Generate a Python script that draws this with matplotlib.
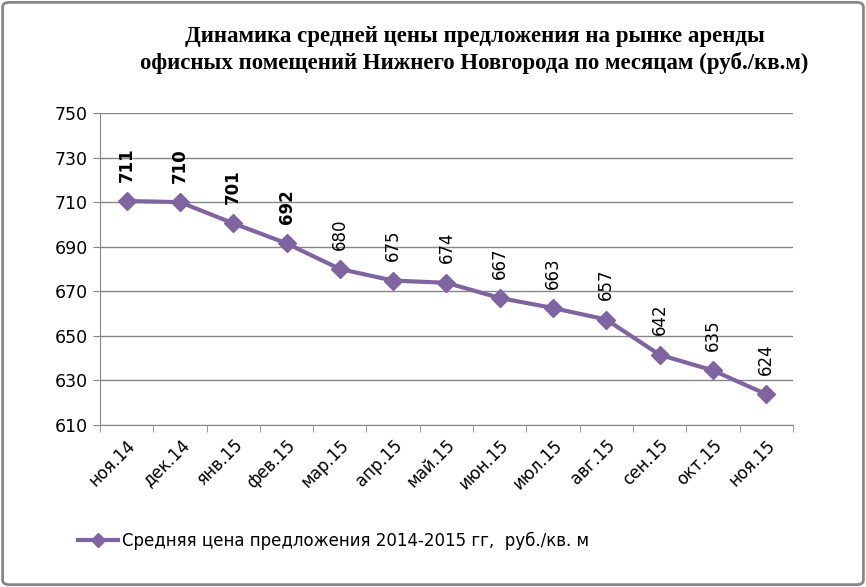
import matplotlib.pyplot as plt
from matplotlib.patches import FancyBboxPatch

months = ['ноя.14', 'дек.14', 'янв.15', 'фев.15', 'мар.15', 'апр.15', 'май.15',
          'июн.15', 'июл.15', 'авг.15', 'сен.15', 'окт.15', 'ноя.15']
prices = [711, 710, 701, 692, 680, 675, 674, 667, 663, 657, 642, 635, 624]
points = [710.5, 710, 700.5, 691.5, 680, 674.8, 673.8, 667, 662.5, 657.3, 641.5, 634.5, 623.8]

plt.rcParams['font.family'] = ['DejaVu Sans']
color = '#8064A2'
grey = '#868686'

fig = plt.figure(figsize=(8.66, 5.87), dpi=100)
ax = fig.add_axes([0.1155, 0.276, 0.80, 0.5315])

x = list(range(len(months)))
ax.plot(x, points, color=color, lw=3, marker='D', markersize=9.5,
        label='Средняя цена предложения 2014-2015 гг,  руб./кв. м')

# first four labels are bold in the original
for i, (xi, yi, v) in enumerate(zip(x, points, prices)):
    ax.annotate(str(v), (xi, yi), xytext=(0, 14), textcoords='offset points',
                rotation=90, ha='center', va='bottom', fontsize=12,
                fontweight='bold' if i < 4 else 'normal')

ax.set_xlim(-0.5, len(months) - 0.5)
ax.set_ylim(610, 750)
ax.set_yticks(range(610, 751, 20))
ax.set_xticks(x)
ax.set_xticklabels(months, rotation=45, ha='right', rotation_mode='anchor', fontsize=12)
ax.set_xticks([i - 0.5 for i in range(len(months) + 1)], minor=True)
ax.tick_params(axis='x', which='major', length=0, pad=8)
ax.tick_params(axis='x', which='minor', length=5, color=grey, direction='out')
ax.tick_params(axis='y', length=5, color=grey, labelsize=12.5, pad=4)
ax.grid(axis='y', color=grey, lw=1)
for side in ['top', 'right']:
    ax.spines[side].set_visible(False)
for side in ['left', 'bottom']:
    ax.spines[side].set_color(grey)

fig.text(0.548, 0.915, 'Динамика средней цены предложения на рынке аренды\n'
         'офисных помещений Нижнего Новгорода по месяцам (руб./кв.м)',
         ha='center', va='center', fontsize=16.5, fontweight='bold',
         family='Liberation Serif', linespacing=1.3)

fig.legend(loc='center left', bbox_to_anchor=(0.073, 0.078), frameon=False,
           fontsize=12, handlelength=2.4, handletextpad=0.2, markerscale=0.75)

border = FancyBboxPatch((0.003, 0.004), 0.994, 0.992, boxstyle='round,pad=0,rounding_size=0.008',
                        transform=fig.transFigure, fill=False, ec='#878787', lw=2)
fig.patches.append(border)

fig.savefig('out.png', dpi=100)
